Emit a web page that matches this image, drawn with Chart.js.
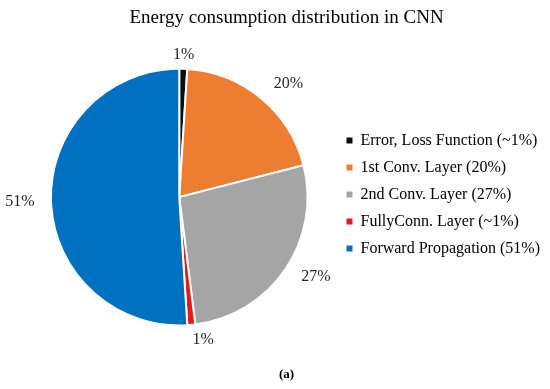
<!DOCTYPE html>
<html>
<head>
<meta charset="utf-8">
<script src="https://cdn.jsdelivr.net/npm/chart.js@4/dist/chart.umd.min.js"></script>
<style>
  body { margin: 0; background: #fff; }
</style>
</head>
<body>
<canvas id="pieChart" width="550" height="389"></canvas>
<script>
// chart data
var categories = ["Error, Loss Function (~1%)", "1st Conv. Layer (20%)", "2nd Conv. Layer (27%)", "FullyConn. Layer (~1%)", "Forward Propagation (51%)"];
var shares = [1, 20, 27, 1, 51];
var sliceLabels = ["1%", "20%", "27%", "1%", "51%"];

var colors = ["#0d0d0d", "#ED7D31", "#A5A5A5", "#E8191C", "#0070C0"];
var serif = "'Liberation Serif', 'Times New Roman', serif";
Chart.defaults.font.family = serif;

// where each % label sits: extra distance past the edge, and angle nudge (deg)
var labelGap = [14, 29, 30, 16, 31];
var labelTurn = [0, 4.4, -3.9, -4.1, 0];

var pctLabels = {
  id: 'pctLabels',
  afterDatasetsDraw: function (chart) {
    var ctx = chart.ctx;
    var arcs = chart.getDatasetMeta(0).data;
    ctx.save();
    ctx.font = "16px " + serif;
    ctx.fillStyle = "#262626";
    ctx.textAlign = "center";
    ctx.textBaseline = "middle";
    for (var i = 0; i < arcs.length; i++) {
      var p = arcs[i].getProps(['x', 'y', 'startAngle', 'endAngle', 'outerRadius'], true);
      var mid = (p.startAngle + p.endAngle) / 2 + labelTurn[i] * Math.PI / 180;
      var d = p.outerRadius + labelGap[i];
      ctx.fillText(sliceLabels[i], p.x + Math.cos(mid) * d, p.y + Math.sin(mid) * d);
    }
    ctx.restore();
  }
};

var ctx = document.getElementById('pieChart').getContext('2d');
var myChart = new Chart(ctx, {
  type: 'pie',
  data: {
    labels: categories,
    datasets: [{
      data: shares,
      backgroundColor: colors,
      borderColor: "#ffffff",
      borderWidth: 2
    }]
  },
  options: {
    responsive: false,
    animation: false,
    layout: { padding: { left: 23, right: 0, top: 0, bottom: 0 } },
    plugins: {
      title: {
        display: true,
        text: "Energy consumption distribution in CNN",
        color: "#000",
        font: { family: serif, size: 19, weight: 'normal' },
        padding: { top: 7, bottom: 38 }
      },
      subtitle: {
        display: true,
        position: 'bottom',
        text: "(a)",
        color: "#000",
        font: { family: serif, size: 13, weight: 'bold' },
        padding: { top: 40, bottom: 7 }
      },
      legend: {
        position: 'right',
        labels: {
          color: "#000",
          font: { family: serif, size: 16 },
          boxWidth: 6,
          boxHeight: 6,
          padding: 11,
          generateLabels: function (chart) {
            var items = Chart.overrides.pie.plugins.legend.labels.generateLabels(chart);
            items.forEach(function (it) {
              it.strokeStyle = it.fillStyle;
              it.lineWidth = 0;
            });
            return items;
          }
        }
      },
      tooltip: { enabled: false }
    }
  },
  plugins: [pctLabels]
});
</script>
</body>
</html>
